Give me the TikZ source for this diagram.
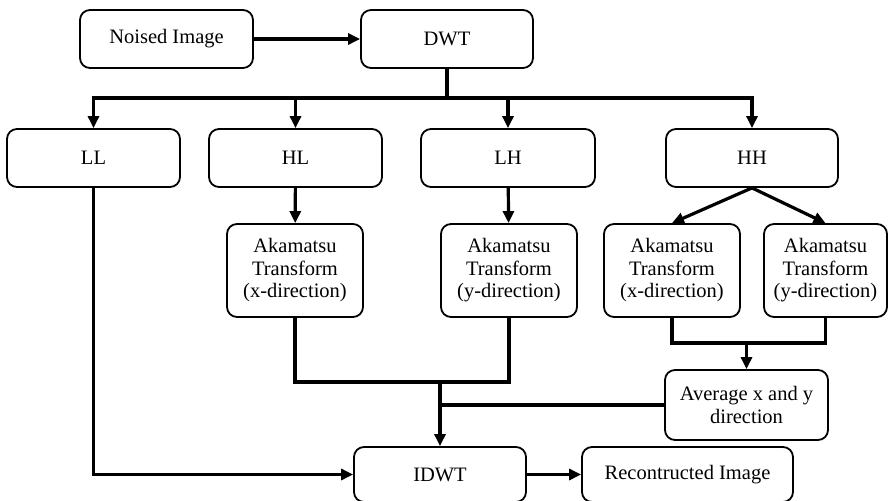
\documentclass[tikz,border=0pt]{standalone}
\usepackage{fontspec}
\setmainfont{Liberation Serif}
\usetikzlibrary{arrows.meta}

\tikzset{
  block/.style={draw, line width=1.8pt, rounded corners=10pt, align=center,
    inner sep=2pt, font=\fontsize{20.5}{22.5}\selectfont},
  flow/.style={line width=3.2pt},
}

\begin{document}
\begin{tikzpicture}[x=1pt, y=-1pt, >={Triangle[length=12pt,width=11pt]}]

\useasboundingbox (0,0) rectangle (890,500);

\node[block, minimum width=173pt, minimum height=58pt](noised) at (166.5,39) {Noised Image};
\node[block, minimum width=172pt, minimum height=58pt](dwt) at (447,39) {DWT};

\node[block, minimum width=173pt, minimum height=58pt](ll) at (93.5,158) {LL};
\node[block, minimum width=173pt, minimum height=58pt](hl) at (295.5,158) {HL};
\node[block, minimum width=174pt, minimum height=58pt](lh) at (508,158) {LH};
\node[block, minimum width=172pt, minimum height=58pt](hh) at (752,158) {HH};

\node[block, minimum width=136pt, minimum height=93pt](athl) at (295,270.5) {Akamatsu\\Transform\\(x-direction)};
\node[block, minimum width=136pt, minimum height=93pt](atlh) at (509,270.5) {Akamatsu\\Transform\\(y-direction)};
\node[block, minimum width=136pt, minimum height=93pt](athhx) at (672,270.5) {Akamatsu\\Transform\\(x-direction)};
\node[block, minimum width=123pt, minimum height=93pt](athhy) at (825.5,270.5) {Akamatsu\\Transform\\(y-direction)};

\node[block, minimum width=163pt, minimum height=70pt](avg) at (746.5,405) {Average x and y\\direction};

\node[block, minimum width=172pt, minimum height=55pt](idwt) at (440,474.5) {IDWT};
\node[block, minimum width=211pt, minimum height=55pt](recon) at (687.5,474.5) {Recontructed Image};

\coordinate (bus) at (0,98);
\coordinate (mergel) at (0,382);
\coordinate (merger) at (0,343);

\draw[->, flow] (noised) -- (dwt);

\foreach \n in {ll,hl,lh,hh}
  \draw[->, flow] (dwt.south) -- (dwt.south |- bus) -| (\n.north);

\draw[->, flow] (hl) -- (athl);
\draw[->, flow] (lh) -- (atlh);
\draw[->, flow] (hh.south) -- (athhx.north);
\draw[->, flow] (hh.south) -- (athhy.north);

\draw[flow] (athl.south) -- (athl.south |- mergel) -| (atlh.south);
\draw[->, flow] (idwt.north |- mergel) -- (idwt.north);

\draw[flow] (athhx.south) -- (athhx.south |- merger) -| (athhy.south);
\draw[->, flow] (avg.north |- merger) -- (avg.north);
\draw[flow] (avg.west) -- (avg.west -| idwt.north);

\draw[->, flow] (ll.south) |- (idwt.west);
\draw[->, flow] (idwt) -- (recon);

\end{tikzpicture}
\end{document}
